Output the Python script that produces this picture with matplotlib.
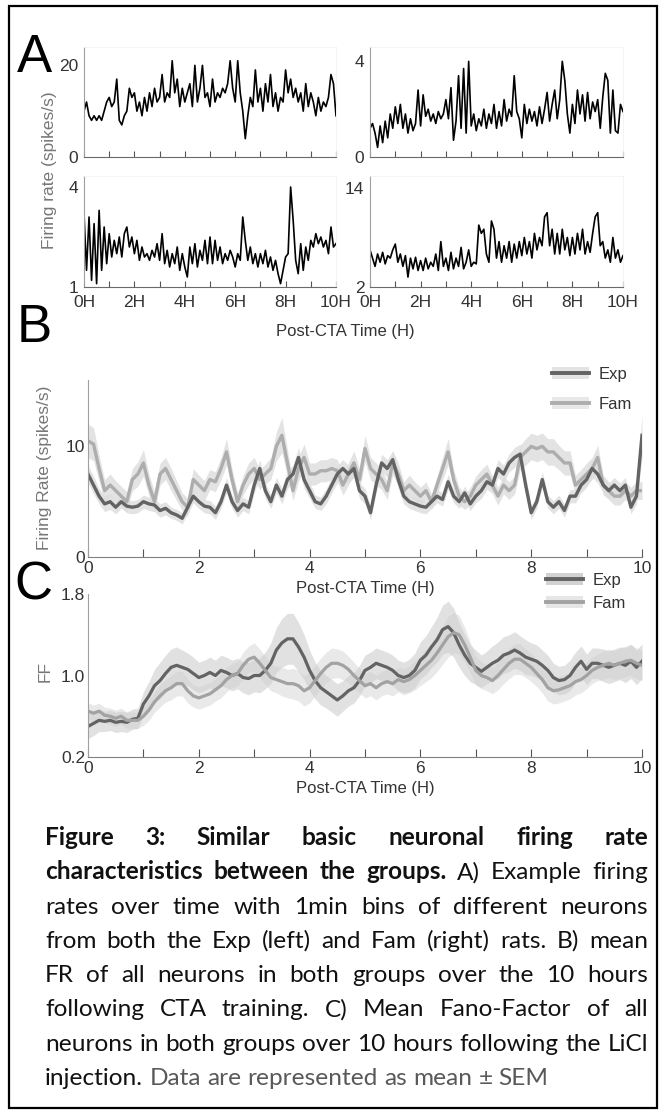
import numpy as np
import matplotlib
matplotlib.use("Agg")
import matplotlib.pyplot as plt
from matplotlib.patches import Rectangle, Patch
from matplotlib.lines import Line2D

W, H = 666, 1115
plt.rcParams['font.family'] = ['Liberation Sans', 'DejaVu Sans']

hours = list(range(11))

# ---- panel A: example firing rates, one value every 6 min ----
exp_unit1 = [10, 12, 9, 8, 9, 8, 9, 8, 10, 12,
             13, 11, 12, 17, 8, 7, 9, 10, 15, 13,
             14, 10, 12, 9, 13, 10, 14, 11, 15, 12,
             13, 18, 12, 14, 13, 21, 14, 17, 11, 15,
             12, 14, 16, 11, 20, 12, 15, 20, 13, 14,
             11, 17, 12, 14, 13, 15, 14, 16, 21, 15,
             12, 21, 14, 10, 4, 9, 13, 11, 19, 12,
             15, 10, 16, 12, 18, 11, 14, 10, 13, 12,
             19, 14, 17, 13, 15, 12, 14, 10, 16, 11,
             14, 12, 9, 13, 10, 12, 11, 13, 18, 16, 9]
fam_unit1 = [1.2, 1.4, 1.0, 0.4, 1.3, 0.6, 1.5, 0.8, 1.8, 1.2,
             2.1, 1.4, 2.2, 1.2, 1.8, 1.0, 1.6, 1.1, 1.4, 2.8,
             1.3, 2.6, 1.7, 2.0, 1.5, 1.8, 1.4, 1.9, 1.6, 1.8,
             2.4, 1.6, 2.9, 0.7, 1.5, 3.4, 1.2, 3.7, 1.0, 4.0,
             1.3, 1.8, 1.1, 1.6, 1.3, 2.0, 1.2, 1.8, 1.4, 2.2,
             1.2, 1.9, 1.3, 2.4, 1.5, 2.0, 1.7, 3.4, 1.9, 1.6,
             0.8, 2.2, 1.4, 2.0, 1.5, 1.9, 1.3, 2.1, 1.4, 2.0,
             2.7, 1.5, 2.2, 2.8, 1.6, 2.4, 4.0, 3.2, 1.8, 1.0,
             2.2, 1.4, 2.8, 1.8, 2.6, 1.5, 2.7, 1.6, 2.3, 1.9,
             2.4, 1.2, 2.5, 3.5, 3.2, 1.0, 2.8, 1.1, 1.0, 2.2, 1.9]
exp_unit2 = [3.2, 1.5, 3.1, 1.2, 2.9, 1.1, 3.3, 1.5, 2.8, 1.7,
             2.6, 1.9, 2.4, 2.0, 2.5, 1.9, 2.6, 2.8, 2.2, 2.5,
             2.0, 2.4, 1.8, 2.2, 1.9, 2.0, 1.8, 2.1, 1.9, 2.3,
             1.8, 2.6, 1.7, 2.1, 1.6, 2.0, 1.7, 2.2, 1.5, 2.0,
             1.6, 1.3, 2.2, 1.7, 2.3, 1.6, 2.1, 1.8, 2.4, 1.7,
             2.5, 1.7, 2.4, 1.8, 2.2, 1.7, 2.0, 1.8, 2.1, 1.9,
             1.6, 2.0, 1.8, 3.1, 2.4, 1.8, 2.2, 1.7, 2.0, 1.6,
             2.0, 1.7, 2.1, 1.6, 1.9, 1.5, 1.8, 1.4, 1.1, 1.5,
             1.9, 2.0, 4.0, 3.0, 1.8, 1.4, 2.3, 1.5, 2.2, 1.8,
             2.4, 2.2, 2.6, 2.3, 2.5, 2.2, 2.4, 2.0, 2.8, 2.2, 2.3]
fam_unit2 = [6.5, 5.5, 4.5, 6.0, 5.0, 6.2, 4.8, 5.8, 5.5, 6.5,
             7.2, 5.0, 6.0, 4.5, 5.8, 3.2, 5.5, 4.2, 5.6, 4.0,
             5.2, 4.0, 5.5, 4.2, 5.0, 4.5, 6.0, 4.0, 7.5, 4.5,
             5.5, 4.0, 6.2, 4.2, 5.5, 4.5, 6.8, 4.2, 5.0, 6.5,
             4.5, 5.0, 4.8, 9.5, 8.5, 9.0, 6.0, 5.0, 10.0, 9.0,
             5.5, 7.5, 5.0, 7.0, 5.5, 7.5, 5.0, 7.2, 5.5, 7.5,
             5.8, 8.0, 6.0, 7.5, 5.5, 8.5, 6.5, 8.0, 7.0, 10.5,
             11.0, 7.0, 9.0, 6.0, 8.5, 6.0, 9.0, 6.5, 8.0, 5.8,
             8.0, 6.0, 8.5, 6.5, 9.0, 6.0, 7.5, 6.2, 8.5, 10.5,
             11.0, 7.0, 7.5, 5.5, 6.5, 5.0, 8.0, 5.5, 6.5, 5.0, 5.8]

# ---- panel B: mean firing rate (every 0.1 h) ----
fr_exp = [7.5, 6.5, 5.5, 4.8, 5.0, 4.5, 5.0, 4.6, 4.5, 4.6,
          5.0, 4.8, 4.7, 4.2, 4.4, 4.0, 3.8, 3.5, 4.5, 5.5,
          5.0, 4.6, 4.5, 4.0, 5.0, 6.5, 5.0, 4.2, 4.8, 4.5,
          6.5, 8.0, 6.0, 5.0, 6.5, 5.5, 7.0, 7.5, 9.0, 7.0,
          6.0, 5.0, 4.8, 5.5, 6.5, 7.5, 8.0, 7.5, 8.0, 6.0,
          5.5, 4.0, 6.5, 8.5, 8.0, 8.8, 7.0, 5.5, 5.0, 4.8,
          4.6, 4.5, 5.0, 5.5, 5.2, 6.8, 5.5, 5.0, 5.8, 4.8,
          5.5, 6.0, 6.8, 6.5, 8.0, 7.5, 8.5, 9.0, 9.3, 6.5,
          4.0, 5.0, 7.0, 5.0, 4.5, 5.0, 4.2, 5.5, 5.5, 6.5,
          7.0, 8.0, 7.5, 6.5, 6.0, 6.5, 6.0, 6.5, 4.5, 5.5, 11.0]
fr_exp_sem = [0.8, 0.8, 0.7, 0.7, 0.7, 0.6, 0.6, 0.6, 0.6, 0.6,
              0.6, 0.6, 0.6, 0.6, 0.6, 0.5, 0.5, 0.5, 0.6, 0.6,
              0.6, 0.6, 0.6, 0.6, 0.6, 0.7, 0.6, 0.6, 0.6, 0.6,
              0.7, 0.8, 0.7, 0.6, 0.7, 0.7, 0.8, 0.8, 0.9, 0.8,
              0.7, 0.6, 0.6, 0.7, 0.7, 0.8, 0.8, 0.8, 0.8, 0.7,
              0.7, 0.6, 0.7, 0.8, 0.8, 0.8, 0.8, 0.7, 0.6, 0.6,
              0.6, 0.6, 0.6, 0.6, 0.6, 0.7, 0.6, 0.6, 0.6, 0.6,
              0.6, 0.7, 0.7, 0.7, 0.8, 0.8, 0.8, 0.9, 0.9, 0.8,
              0.6, 0.6, 0.7, 0.6, 0.6, 0.6, 0.6, 0.6, 0.6, 0.7,
              0.7, 0.8, 0.8, 0.7, 0.7, 0.7, 0.7, 0.7, 0.6, 0.7, 2.0]
fr_fam = [10.5, 10.2, 8.0, 6.0, 6.5, 6.0, 5.5, 5.0, 7.0, 7.5,
          8.5, 6.5, 5.0, 7.5, 8.0, 7.0, 6.0, 5.0, 4.5, 7.0,
          6.5, 6.0, 7.0, 6.8, 8.0, 9.5, 7.0, 5.0, 6.5, 7.5,
          8.0, 7.0, 7.5, 8.0, 10.0, 11.0, 8.5, 6.0, 8.0, 9.0,
          7.5, 7.5, 7.8, 7.8, 8.0, 7.8, 6.5, 7.5, 8.5, 7.0,
          9.8, 8.0, 7.5, 7.0, 6.0, 8.5, 7.5, 6.0, 6.5, 6.0,
          5.5, 6.0, 5.0, 6.5, 8.0, 9.5, 7.0, 5.5, 5.0, 5.5,
          6.5, 7.0, 7.5, 6.5, 5.5, 6.5, 6.0, 6.5, 9.0, 9.5,
          10.0, 9.8, 10.0, 9.5, 9.5, 9.0, 8.5, 8.5, 6.5, 7.0,
          7.5, 8.0, 9.0, 6.5, 6.0, 5.5, 5.5, 6.0, 5.5, 6.0, 6.0]
fr_fam_sem = [1.5, 1.5, 1.2, 1.0, 1.0, 0.9, 0.9, 0.9, 1.0, 1.1,
              1.2, 1.0, 0.9, 1.0, 1.0, 1.0, 0.9, 0.8, 0.8, 1.0,
              0.9, 0.9, 0.9, 0.9, 1.0, 1.2, 1.0, 0.8, 0.9, 1.0,
              1.0, 0.9, 0.9, 1.0, 1.3, 1.6, 1.2, 0.9, 1.1, 1.2,
              1.0, 1.0, 1.0, 1.0, 1.0, 1.0, 0.9, 1.0, 1.1, 1.0,
              1.2, 1.0, 1.0, 0.9, 0.8, 1.1, 1.0, 0.8, 0.9, 0.8,
              0.8, 0.8, 0.7, 0.8, 1.0, 1.2, 0.9, 0.8, 0.7, 0.8,
              0.8, 0.9, 0.9, 0.8, 0.8, 0.8, 0.8, 0.8, 1.1, 1.2,
              1.2, 1.2, 1.2, 1.2, 1.2, 1.1, 1.1, 1.1, 0.9, 0.9,
              1.0, 1.0, 1.1, 0.9, 0.8, 0.8, 0.8, 0.8, 0.8, 0.8, 0.8]

# ---- panel C: Fano factor (every 0.1 h) ----
ff_exp = [0.50, 0.53, 0.56, 0.55, 0.56, 0.54, 0.55, 0.54, 0.57, 0.58,
          0.72, 0.80, 0.90, 0.95, 1.02, 1.08, 1.10, 1.08, 1.06, 1.02,
          0.98, 1.00, 1.03, 1.00, 1.05, 1.03, 1.00, 1.02, 0.98, 0.97,
          1.00, 1.00, 1.05, 1.12, 1.25, 1.32, 1.36, 1.36, 1.28, 1.18,
          1.05, 0.95, 0.88, 0.84, 0.80, 0.76, 0.80, 0.85, 0.88, 0.95,
          1.05, 1.08, 1.12, 1.10, 1.08, 1.05, 1.00, 0.98, 1.00, 1.05,
          1.15, 1.20, 1.28, 1.35, 1.45, 1.48, 1.42, 1.30, 1.20, 1.12,
          1.08, 1.04, 1.08, 1.12, 1.15, 1.20, 1.22, 1.25, 1.22, 1.18,
          1.16, 1.14, 1.10, 1.05, 0.98, 0.95, 0.96, 1.00, 1.08, 1.14,
          1.06, 1.12, 1.12, 1.10, 1.08, 1.10, 1.12, 1.10, 1.14, 1.08, 1.14]
ff_exp_sem = [0.12, 0.12, 0.11, 0.10, 0.10, 0.10, 0.10, 0.10, 0.10, 0.10,
              0.12, 0.14, 0.16, 0.18, 0.18, 0.18, 0.18, 0.17, 0.16, 0.16,
              0.15, 0.15, 0.15, 0.15, 0.15, 0.15, 0.15, 0.15, 0.15, 0.16,
              0.16, 0.17, 0.18, 0.20, 0.22, 0.24, 0.25, 0.25, 0.24, 0.22,
              0.20, 0.18, 0.17, 0.16, 0.16, 0.16, 0.15, 0.15, 0.15, 0.15,
              0.15, 0.15, 0.15, 0.15, 0.15, 0.15, 0.15, 0.15, 0.16, 0.17,
              0.18, 0.19, 0.20, 0.22, 0.24, 0.25, 0.24, 0.22, 0.20, 0.18,
              0.17, 0.16, 0.16, 0.17, 0.18, 0.18, 0.18, 0.18, 0.17, 0.17,
              0.16, 0.16, 0.15, 0.15, 0.14, 0.14, 0.14, 0.15, 0.15, 0.15,
              0.15, 0.15, 0.15, 0.16, 0.16, 0.16, 0.16, 0.17, 0.17, 0.17, 0.17]
ff_fam = [0.65, 0.63, 0.65, 0.61, 0.60, 0.58, 0.60, 0.56, 0.56, 0.56,
          0.60, 0.66, 0.74, 0.80, 0.85, 0.88, 0.92, 0.92, 0.85, 0.80,
          0.78, 0.80, 0.82, 0.86, 0.90, 0.96, 1.00, 1.02, 1.10, 1.16,
          1.18, 1.12, 1.05, 0.98, 0.96, 0.94, 0.92, 0.92, 0.90, 0.85,
          0.88, 0.95, 1.02, 1.08, 1.12, 1.12, 1.10, 1.06, 1.00, 0.95,
          0.90, 0.92, 0.88, 0.92, 0.94, 0.92, 0.96, 0.94, 0.96, 1.00,
          1.05, 1.10, 1.15, 1.22, 1.30, 1.38, 1.42, 1.40, 1.30, 1.18,
          1.05, 1.00, 0.98, 0.95, 1.00, 1.06, 1.12, 1.16, 1.16, 1.12,
          1.08, 1.02, 0.96, 0.88, 0.85, 0.86, 0.88, 0.90, 0.94, 0.96,
          1.00, 1.05, 1.08, 1.10, 1.12, 1.10, 1.12, 1.14, 1.15, 1.12, 1.10]
ff_fam_sem = [0.08, 0.08, 0.08, 0.08, 0.08, 0.08, 0.08, 0.08, 0.08, 0.08,
              0.09, 0.10, 0.10, 0.11, 0.11, 0.12, 0.12, 0.12, 0.12, 0.11,
              0.11, 0.11, 0.11, 0.11, 0.12, 0.12, 0.12, 0.12, 0.13, 0.13,
              0.14, 0.14, 0.14, 0.13, 0.13, 0.14, 0.14, 0.15, 0.15, 0.15,
              0.15, 0.15, 0.15, 0.15, 0.15, 0.14, 0.14, 0.13, 0.13, 0.12,
              0.12, 0.12, 0.12, 0.12, 0.12, 0.12, 0.12, 0.13, 0.13, 0.14,
              0.15, 0.16, 0.17, 0.18, 0.19, 0.20, 0.20, 0.19, 0.17, 0.15,
              0.14, 0.13, 0.13, 0.13, 0.14, 0.14, 0.15, 0.15, 0.15, 0.14,
              0.14, 0.13, 0.13, 0.13, 0.13, 0.13, 0.13, 0.13, 0.13, 0.13,
              0.13, 0.13, 0.13, 0.14, 0.14, 0.14, 0.15, 0.15, 0.15, 0.15, 0.15]

caption = [
    [("Figure", "bold"), ("3:", "bold"), ("Similar", "bold"), ("basic", "bold"),
     ("neuronal", "bold"), ("firing", "bold"), ("rate", "bold")],
    [("characteristics", "bold"), ("between", "bold"), ("the", "bold"),
     ("groups.", "bold"), ("A)", "normal"), ("Example", "normal"), ("firing", "normal")],
    "rates over time with 1min bins of different neurons",
    "from both the Exp (left) and Fam (right) rats. B) mean",
    "FR of all neurons in both groups over the 10 hours",
    "following CTA training. C) Mean Fano-Factor of all",
    "neurons in both groups over 10 hours following the LiCl",
]
caption_last = "injection."
caption_note = "Data are represented as mean \u00b1 SEM"

EXP_C, FAM_C = '#636363', '#adadad'
TICK_FS = 12.5
LABEL_FS = 12.5

fig = plt.figure(figsize=(W / 100, H / 100), dpi=100)


def px_axes(x0, y0, x1, y1):
    return fig.add_axes([x0 / W, 1 - y1 / H, (x1 - x0) / W, (y1 - y0) / H])


def ftext(x, y, s, **kw):
    return fig.text(x / W, 1 - y / H, s, **kw)


def style_a(ax, ylim, yticks, xlabels):
    ax.set_xlim(0, 10)
    ax.set_ylim(*ylim)
    for s in ('top', 'right'):
        ax.spines[s].set_color('#f2f2f2')
        ax.spines[s].set_linewidth(0.6)
    ax.spines['left'].set_color('#a0a0a0')
    ax.spines['bottom'].set_color('#6a6a6a')
    ax.set_xticks(hours)
    if xlabels:
        ax.set_xticklabels([f'{h}H' if h % 2 == 0 else '' for h in hours])
    else:
        ax.set_xticklabels([])
    ax.set_yticks(yticks)
    ax.set_yticklabels([str(t) for t in yticks])
    ax.tick_params(axis='x', direction='in', length=4.5, width=0.8, color='#555555',
                   labelsize=TICK_FS, labelcolor='#333333', pad=6)
    ax.tick_params(axis='y', length=0, labelsize=TICK_FS, labelcolor='#333333', pad=4)


def style_wide(ax, ylim, yticks, ylabels):
    ax.set_xlim(0, 10)
    ax.set_ylim(*ylim)
    for s in ('top', 'right'):
        ax.spines[s].set_visible(False)
    ax.spines['left'].set_color('#a0a0a0')
    ax.spines['bottom'].set_color('#808080')
    ax.set_xticks(hours)
    ax.set_xticklabels([str(h) if h % 2 == 0 else '' for h in hours])
    ax.set_yticks(yticks)
    ax.set_yticklabels(ylabels)
    ax.tick_params(axis='x', direction='in', length=5.5, width=0.8, color='#555555',
                   labelsize=TICK_FS, labelcolor='#333333', pad=3)
    ax.tick_params(axis='y', length=0, labelsize=TICK_FS, labelcolor='#333333', pad=2)


def add_legend(ax, handles, x, y, spacing):
    leg = ax.legend(handles, ['Exp', 'Fam'], loc='upper left',
                    bbox_to_anchor=(x / W, 1 - y / H), bbox_transform=fig.transFigure,
                    frameon=False, fontsize=12, handlelength=2.2, handleheight=0.75,
                    handletextpad=0.6, labelspacing=spacing, borderpad=0, borderaxespad=0)
    for t in leg.get_texts():
        t.set_color('#333333')


# ---- A ----
t_a = np.linspace(0, 10, len(exp_unit1))
ax1 = px_axes(84, 47, 336, 157)
ax1.plot(t_a, exp_unit1, color='black', lw=1.2)
style_a(ax1, (0, 24), [0, 20], False)
ax2 = px_axes(370, 47, 623, 157)
ax2.plot(t_a, fam_unit1, color='black', lw=1.2)
style_a(ax2, (0, 4.6), [0, 4], False)
ax3 = px_axes(84, 176, 336, 287)
ax3.plot(t_a, exp_unit2, color='black', lw=1.2)
style_a(ax3, (1, 4.33), [1, 4], True)
ax4 = px_axes(370, 176, 623, 287)
ax4.plot(t_a, fam_unit2, color='black', lw=1.2)
style_a(ax4, (2, 15.45), [2, 14], True)

ftext(50, 170, 'Firing rate (spikes/s)', rotation=90, ha='center', va='center',
      fontsize=LABEL_FS, color='#777777')
ftext(345, 331, 'Post-CTA Time (H)', ha='center', va='center', fontsize=12, color='#333333')

# ---- B ----
t_b = np.linspace(0, 10, len(fr_exp))
axb = px_axes(88, 380, 642, 557)
fe, fes = np.array(fr_exp), np.array(fr_exp_sem)
fm, fms = np.array(fr_fam), np.array(fr_fam_sem)
axb.fill_between(t_b, fm - fms, fm + fms, color='#e3e3e3', lw=0)
axb.fill_between(t_b, fe - fes, fe + fes, color='#dcdcdc', alpha=0.8, lw=0)
axb.plot(t_b, fm, color=FAM_C, lw=2.4)
axb.plot(t_b, fe, color=EXP_C, lw=2.4)
style_wide(axb, (0, 16), [0, 10], ['0', '10'])
add_legend(axb, [(Patch(color='#e3e3e3', lw=0), Line2D([], [], color=EXP_C, lw=2.8)),
                 (Patch(color='#e8e8e8', lw=0), Line2D([], [], color=FAM_C, lw=2.8))],
           552, 367, 0.9)
ftext(45, 468, 'Firing Rate (spikes/s)', rotation=90, ha='center', va='center',
      fontsize=LABEL_FS, color='#777777')
ftext(365, 589, 'Post-CTA Time (H)', ha='center', va='center', fontsize=12, color='#333333')

# ---- C ----
t_c = np.linspace(0, 10, len(ff_exp))
axc = px_axes(88, 594, 642, 757)
ce, ces = np.array(ff_exp), np.array(ff_exp_sem)
cm, cms = np.array(ff_fam), np.array(ff_fam_sem)
axc.fill_between(t_c, ce - ces, ce + ces, color='#bdbdbd', alpha=0.45, lw=0)
axc.fill_between(t_c, cm - cms, cm + cms, color='#cfcfcf', alpha=0.45, lw=0)
axc.plot(t_c, ce, color=EXP_C, lw=2.3)
axc.plot(t_c, cm, color='#a2a2a2', lw=2.3)
style_wide(axc, (0.2, 1.8), [0.2, 1.0, 1.8], ['0.2', '1.0', '1.8'])
add_legend(axc, [(Patch(color='#d2d2d2', lw=0), Line2D([], [], color=EXP_C, lw=2.8)),
                 (Patch(color='#e6e6e6', lw=0), Line2D([], [], color='#a2a2a2', lw=2.8))],
           546, 573, 0.45)
ftext(45, 672, 'FF', rotation=90, ha='center', va='center', fontsize=LABEL_FS, color='#777777')
ftext(365, 789, 'Post-CTA Time (H)', ha='center', va='center', fontsize=12, color='#333333')

# panel letters
for letter, x, y in [('A', 17, 72), ('B', 17, 342), ('C', 14, 600)]:
    ftext(x, y, letter, fontsize=38, va='baseline', ha='left', color='black')

# ---- caption, justified like the source document ----
renderer = fig.canvas.get_renderer()
cap_left, cap_right = 45, 648
cap_font = ['Lato', 'DejaVu Sans']
probe = fig.text(0, 0, caption[-1], fontsize=14, family=cap_font)
cap_size = 14 * (cap_right - cap_left - 4) / probe.get_window_extent(renderer).width
probe.remove()


def words_of(line):
    if isinstance(line, str):
        return [(w, 'normal') for w in line.split()]
    return line


def place_line(words, ybase, justify, colors=None):
    arts = []
    for i, (w, wt) in enumerate(words):
        col = colors[i] if colors else '#111111'
        arts.append(ftext(0, ybase, w, fontsize=cap_size, family=cap_font, weight=wt,
                          color=col, va='baseline', ha='left'))
    widths = [a.get_window_extent(renderer).width for a in arts]
    if justify:
        gap = (cap_right - cap_left - sum(widths)) / (len(arts) - 1)
    else:
        sp = fig.text(0, 0, 'a a', fontsize=cap_size, family=cap_font)
        sq = fig.text(0, 0, 'aa', fontsize=cap_size, family=cap_font)
        gap = sp.get_window_extent(renderer).width - sq.get_window_extent(renderer).width
        sp.remove()
        sq.remove()
    x = cap_left
    for a, wdt in zip(arts, widths):
        a.set_x(x / W)
        x += wdt + gap


pitch = 34.3
base0 = 845
for i, line in enumerate(caption):
    place_line(words_of(line), base0 + i * pitch, True)
last = [(caption_last, 'normal')] + [(w, 'normal') for w in caption_note.split()]
place_line(last, base0 + len(caption) * pitch, False,
           colors=['#111111'] + ['#595959'] * len(caption_note.split()))

# outer frame
fig.add_artist(Rectangle((9 / W, 1 - 1108 / H), 648 / W, 1102 / H, transform=fig.transFigure,
                         fill=False, edgecolor='black', lw=1.6))

fig.savefig('out.png', dpi=100)
